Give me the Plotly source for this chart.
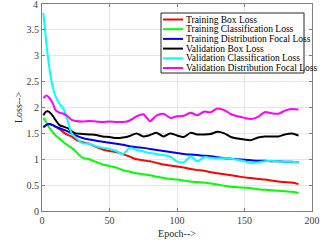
import plotly.graph_objects as go

epochs = [1, 3, 5, 8, 10, 13, 16, 19, 22, 25, 30, 35, 40, 45, 50, 55, 60, 65, 70, 75,
          80, 85, 90, 95, 100, 105, 110, 115, 120, 125, 130, 135, 140, 145, 150, 155,
          160, 165, 170, 175, 180, 185, 190]

train_box = [1.62, 1.66, 1.68, 1.66, 1.63, 1.58, 1.52, 1.47, 1.44, 1.38, 1.33, 1.30, 1.24,
             1.19, 1.16, 1.14, 1.10, 1.05, 1.00, 0.98, 0.96, 0.93, 0.90, 0.88, 0.86, 0.84,
             0.81, 0.79, 0.78, 0.75, 0.73, 0.71, 0.69, 0.67, 0.65, 0.64, 0.62, 0.61, 0.59,
             0.57, 0.56, 0.55, 0.52]
train_cls = [1.80, 1.72, 1.63, 1.52, 1.46, 1.40, 1.33, 1.27, 1.22, 1.15, 1.03, 1.00, 0.95,
             0.90, 0.87, 0.84, 0.79, 0.76, 0.73, 0.71, 0.69, 0.66, 0.64, 0.62, 0.61, 0.59,
             0.57, 0.56, 0.55, 0.53, 0.51, 0.49, 0.47, 0.46, 0.45, 0.44, 0.42, 0.41, 0.40,
             0.39, 0.38, 0.37, 0.35]
train_dfl = [1.62, 1.66, 1.68, 1.66, 1.63, 1.60, 1.57, 1.54, 1.50, 1.46, 1.41, 1.38, 1.36,
             1.34, 1.32, 1.30, 1.28, 1.25, 1.23, 1.22, 1.20, 1.18, 1.16, 1.14, 1.12, 1.10,
             1.09, 1.08, 1.07, 1.06, 1.04, 1.02, 1.01, 1.00, 0.99, 0.98, 0.97, 0.97, 0.96,
             0.96, 0.95, 0.95, 0.94]
val_box = [1.85, 1.92, 1.92, 1.84, 1.76, 1.66, 1.63, 1.60, 1.54, 1.50, 1.49, 1.48, 1.47,
           1.44, 1.43, 1.41, 1.42, 1.45, 1.50, 1.44, 1.47, 1.51, 1.44, 1.50, 1.46, 1.43,
           1.51, 1.48, 1.48, 1.49, 1.53, 1.50, 1.43, 1.40, 1.38, 1.37, 1.42, 1.44, 1.44,
           1.44, 1.48, 1.50, 1.46]
val_cls = [3.83, 3.30, 2.85, 2.39, 2.22, 2.07, 1.97, 1.75, 1.50, 1.42, 1.31, 1.30, 1.25,
           1.22, 1.20, 1.16, 1.10, 1.22, 1.18, 1.15, 1.12, 1.10, 1.08, 1.05, 0.96, 0.94,
           1.06, 0.96, 1.04, 1.03, 1.02, 1.02, 1.01, 0.99, 0.96, 0.93, 0.94, 0.96, 0.97,
           0.96, 0.95, 0.95, 0.94]
val_dfl = [2.18, 2.23, 2.20, 2.08, 1.95, 1.90, 1.88, 1.83, 1.76, 1.74, 1.73, 1.74, 1.73,
           1.72, 1.73, 1.72, 1.72, 1.75, 1.83, 1.87, 1.74, 1.85, 1.88, 1.80, 1.83, 1.84,
           1.90, 1.85, 1.92, 1.91, 1.98, 1.95, 1.87, 1.83, 1.80, 1.78, 1.82, 1.91, 1.89,
           1.88, 1.94, 1.97, 1.96]

series_names = ["Training Box Loss", "Training Classification Loss",
                "Training Distribution Focal Loss", "Validation Box Loss",
                "Validation Classification Loss", "Validation Distribution Focal Loss"]
series_values = [train_box, train_cls, train_dfl, val_box, val_cls, val_dfl]
series_colors = ["#ff0000", "#00ff00", "#0000ff", "#000000", "#00ffff", "#ff00ff"]

x_ticks = [0, 50, 100, 150, 200]
y_ticks = [0, 0.5, 1, 1.5, 2, 2.5, 3, 3.5, 4]
y_ticktext = ["0", "0.5", "1", "1.5", "2", "2.5", "3", "3.5", "4"]

W, H = 323, 244
ML, MR, MT, MB = 42, 11, 4, 33
PW, PH = W - ML - MR, H - MT - MB

fig = go.Figure()
for name, vals, color in zip(series_names, series_values, series_colors):
    fig.add_trace(go.Scatter(x=epochs, y=vals, name=name, mode="lines", showlegend=False,
                             line=dict(color=color, width=2, shape="spline", smoothing=0.8)))

font = "Liberation Serif, Times New Roman, serif"
tick_font = dict(family=font, size=10, color="#404040")
axis_common = dict(showgrid=True, gridcolor="#e6e6e6", gridwidth=1, zeroline=False,
                   showline=True, linecolor="#808080", linewidth=1, mirror="ticks",
                   ticks="inside", ticklen=3, tickcolor="#808080", automargin=False,
                   tickfont=tick_font)

# custom compact legend (paper coordinates)
def px2x(px):
    return (px - ML) / PW

def py2y(py):
    return (H - MB - py) / PH

shapes = [dict(type="rect", xref="paper", yref="paper",
               x0=px2x(161), x1=px2x(304), y0=py2y(73), y1=py2y(13),
               line=dict(color="#262626", width=1), fillcolor="white", layer="above")]
annotations = []
row0, step = 19.5, 9.7
for i, (name, color) in enumerate(zip(series_names, series_colors)):
    yy = py2y(row0 + i * step)
    shapes.append(dict(type="line", xref="paper", yref="paper",
                       x0=px2x(163), x1=px2x(183), y0=yy, y1=yy,
                       line=dict(color=color, width=2), layer="above"))
    annotations.append(dict(text=name, xref="paper", yref="paper", x=px2x(184), y=yy,
                            xanchor="left", yanchor="middle", showarrow=False,
                            font=dict(family=font, size=9.5, color="#000000")))

# top y tick label (plotly drops it at the figure edge)
annotations.append(dict(text=y_ticktext[-1], xref="paper", yref="y", x=0, y=y_ticks[-1],
                        xanchor="right", yanchor="middle", xshift=-2, showarrow=False,
                        font=tick_font))

fig.update_layout(
    width=W, height=H,
    margin=dict(l=ML, r=MR, t=MT, b=MB),
    paper_bgcolor="white", plot_bgcolor="white",
    font=dict(family=font, color="#262626"),
    xaxis=dict(range=[0, 200], tickvals=x_ticks,
               title=dict(text="Epoch-->", font=dict(family=font, size=10), standoff=4),
               **axis_common),
    yaxis=dict(range=[0, 4.001], tickvals=y_ticks, ticktext=y_ticktext,
               title=dict(text="Loss-->", font=dict(family=font, size=10), standoff=2),
               **axis_common),
    shapes=shapes,
    annotations=annotations,
    showlegend=False,
)

fig.write_html("out.html", config={"displayModeBar": False},
               post_script="document.body.style.margin='0';")
